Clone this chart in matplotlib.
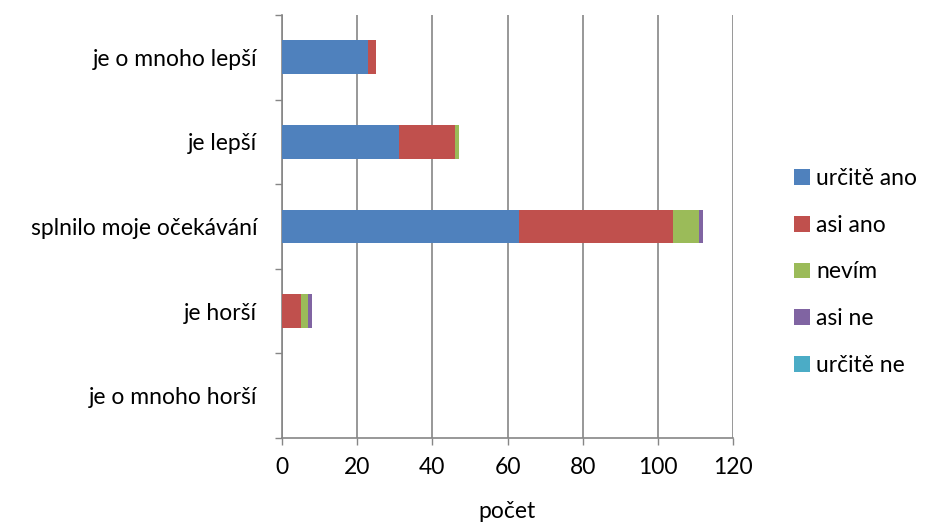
import matplotlib
matplotlib.use("Agg")
import matplotlib.pyplot as plt
import numpy as np

plt.rcParams["font.family"] = ["Lato", "DejaVu Sans"]

categories = ["je o mnoho lepší", "je lepší", "splnilo moje očekávání", "je horší", "je o mnoho horší"]
series = ["určitě ano", "asi ano", "nevím", "asi ne", "určitě ne"]
urcite_ano = [23, 31, 63, 0, 0]
asi_ano = [2, 15, 41, 5, 0]
nevim = [0, 1, 7, 2, 0]
asi_ne = [0, 0, 1, 1, 0]
urcite_ne = [0, 0, 0, 0, 0]
colors = ["#4F81BD", "#C0504D", "#9BBB59", "#8064A2", "#4BACC6"]

values = [urcite_ano, asi_ano, nevim, asi_ne, urcite_ne]
FS = 16.5

fig = plt.figure(figsize=(9.3, 5.28), dpi=100)
ax = fig.add_axes([282 / 930, 1 - 438 / 528, 451 / 930, 423 / 528])

y = np.arange(len(categories))
left = np.zeros(len(categories))
for name, vals, c in zip(series, values, colors):
    ax.barh(y, vals, left=left, height=0.4, color=c, label=name, zorder=3)
    left += np.array(vals)

ax.set_ylim(len(categories) - 0.5, -0.5)
ax.set_xlim(0, 120)
ax.set_xticks(range(0, 121, 20))
ax.set_yticks(y)
ax.set_yticklabels(categories)
ax.set_yticks(np.arange(-0.5, len(categories), 1), minor=True)
ax.tick_params(axis="y", which="major", length=0, pad=18, labelsize=FS)
ax.tick_params(axis="y", which="minor", length=5, color="#868686", width=1)
ax.tick_params(axis="x", length=5, color="#868686", width=1, labelsize=FS, pad=9)
ax.grid(axis="x", color="#868686", lw=1.2, zorder=0)
for s in ["top", "right"]:
    ax.spines[s].set_visible(False)
for s in ["left", "bottom"]:
    ax.spines[s].set_color("#868686")
    ax.spines[s].set_linewidth(1.2)
ax.set_xlabel("počet", fontsize=FS, labelpad=16)

fig.legend(loc="center left", bbox_to_anchor=(794 / 930, 1 - 272 / 528), frameon=False, fontsize=FS,
           handlelength=0.68, handleheight=0.68, handletextpad=0.3, labelspacing=1.12,
           borderaxespad=0, borderpad=0)

fig.savefig("out.png", dpi=100)
